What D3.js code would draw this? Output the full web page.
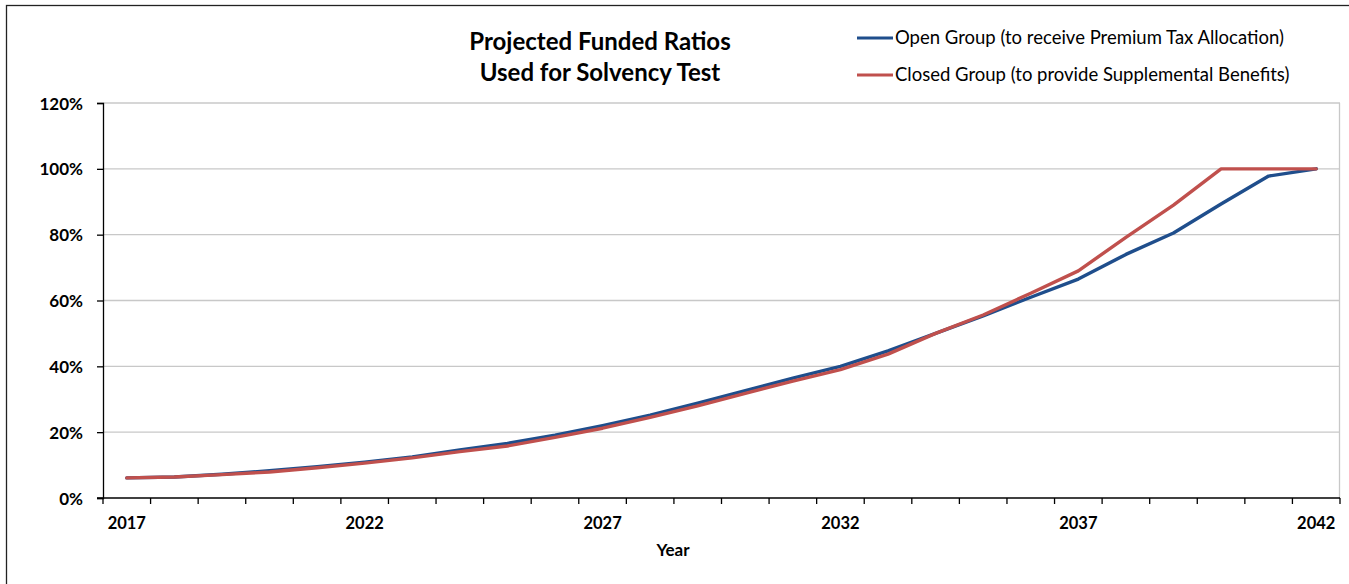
<!DOCTYPE html>
<html><head><meta charset="utf-8">
<script src="https://cdn.jsdelivr.net/npm/d3@7"></script>
<style>body{margin:0;background:#fff}svg{display:block}</style>
</head><body>
<svg id="chart" width="1349" height="584"></svg>
<script>
const years = [2017,2018,2019,2020,2021,2022,2023,2024,2025,2026,2027,2028,2029,2030,2031,2032,2033,2034,2035,2036,2037,2038,2039,2040,2041,2042];
const openGroup = [6.1,6.4,7.2,8.3,9.5,10.9,12.5,14.6,16.6,19.1,22.0,25.2,28.8,32.6,36.4,40.0,44.7,50.0,55.3,61.0,66.5,74.0,80.5,89.3,97.8,100];
const closedGroup = [6.1,6.4,7.1,7.9,9.2,10.6,12.2,14.1,15.8,18.4,21.2,24.5,28.0,31.8,35.5,39.0,43.7,50.0,55.6,62.2,69.0,79.2,89.0,100,100,100];
const yTicks = [0,20,40,60,80,100,120];
const xLabelYears = [2017,2022,2027,2032,2037,2042];
const titleLines = ["Projected Funded Ratios","Used for Solvency Test"];
const seriesNames = ["Open Group (to receive Premium Tax Allocation)","Closed Group (to provide Supplemental Benefits)"];
const seriesColors = ["#1F4E8C","#C0504D"];

const FONT = "Lato, 'Open Sans', sans-serif";
const svg = d3.select("#chart");
const L = 103, R = 1340, T = 103, B = 498;

const x = d3.scaleBand().domain(years).range([L, R]).paddingInner(0).paddingOuter(0);
const y = d3.scaleLinear().domain([0, 120]).range([B, T]);

// outer border
svg.append("rect").attr("x",6.5).attr("y",5.5).attr("width",1360).attr("height",600)
  .attr("fill","none").attr("stroke","#222").attr("stroke-width",1.3);

// gridlines
svg.append("g").selectAll("line").data(yTicks.filter(d=>d>0)).join("line")
  .attr("x1",L).attr("x2",R).attr("y1",d=>y(d)).attr("y2",d=>y(d))
  .attr("stroke","#C8C8C8").attr("stroke-width",1.3);
// right plot border
svg.append("line").attr("x1",R-0.5).attr("x2",R-0.5).attr("y1",T).attr("y2",B)
  .attr("stroke","#C8C8C8").attr("stroke-width",1.3);

// y axis
const yAxis = svg.append("g").attr("transform",`translate(${L},0)`)
  .call(d3.axisLeft(y).tickValues(yTicks).tickSize(6).tickPadding(14).tickFormat(d=>d+"%"));
yAxis.select(".domain").attr("stroke","#000").attr("stroke-width",1.3);
yAxis.selectAll(".tick line").attr("stroke","#000").attr("stroke-width",1.3);
yAxis.selectAll("text").attr("font-family",FONT).attr("font-weight","bold")
  .attr("font-size",17).attr("fill","#000").attr("dy","0.36em");

// x axis line + ticks at band boundaries
const xg = svg.append("g");
xg.append("line").attr("x1",L-6).attr("x2",R).attr("y1",B).attr("y2",B)
  .attr("stroke","#000").attr("stroke-width",1.3);
const bounds = years.map(d=>x(d)).concat([R]);
xg.selectAll("line.tk").data(bounds).join("line").attr("class","tk")
  .attr("x1",d=>d).attr("x2",d=>d).attr("y1",B).attr("y2",B+6)
  .attr("stroke","#000").attr("stroke-width",1.3);
const xAxis = svg.append("g").attr("transform",`translate(0,${B})`)
  .call(d3.axisBottom(x).tickValues(xLabelYears).tickSize(0).tickPadding(19));
xAxis.select(".domain").remove();
xAxis.selectAll("text").attr("font-family",FONT).attr("font-weight","bold")
  .attr("font-size",16.5).attr("fill","#000");

// axis title
svg.append("text").attr("x",673).attr("y",556).attr("text-anchor","middle")
  .attr("font-family",FONT).attr("font-weight","bold").attr("font-size",17).text("Year");

// title
svg.append("g").selectAll("text").data(titleLines).join("text")
  .attr("x",600).attr("y",(d,i)=>50+i*31).attr("text-anchor","middle")
  .attr("font-family",FONT).attr("font-weight","bold").attr("font-size",24).attr("fill","#000")
  .text(d=>d);

// lines
const line = d3.line().x((d,i)=>x(years[i])+x.bandwidth()/2).y(d=>y(d));
[openGroup, closedGroup].forEach((s,k)=>{
  svg.append("path").datum(s).attr("d",line).attr("fill","none")
    .attr("stroke",seriesColors[k]).attr("stroke-width",3.4)
    .attr("stroke-linejoin","round").attr("stroke-linecap","round");
});

// legend
const lg = svg.append("g");
seriesNames.forEach((n,i)=>{
  const yy = 38 + i*37;
  lg.append("line").attr("x1",857).attr("x2",893).attr("y1",yy).attr("y2",yy)
    .attr("stroke",seriesColors[i]).attr("stroke-width",3.2);
  lg.append("text").attr("x",895).attr("y",yy+6).attr("font-family",FONT)
    .attr("font-size",18.5).attr("fill","#000").text(n);
});
</script>
</body></html>
